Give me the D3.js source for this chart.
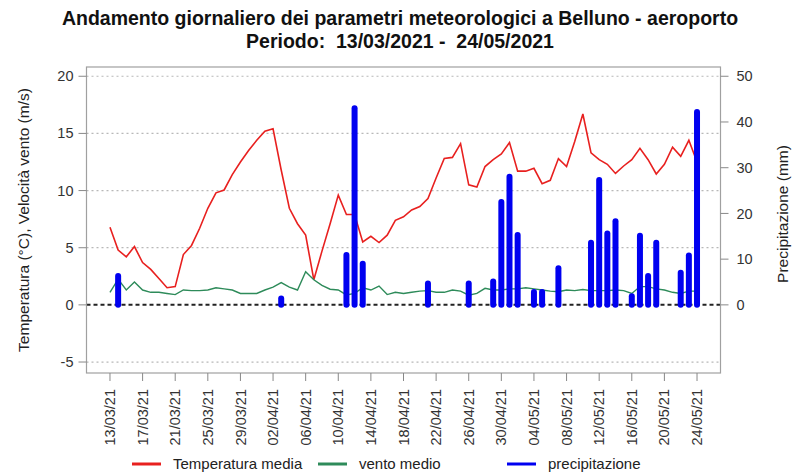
<!DOCTYPE html>
<html><head><meta charset="utf-8">
<script src="https://cdn.jsdelivr.net/npm/d3@7"></script>
<style>body{margin:0;background:#fff;} svg{display:block;font-family:"Liberation Sans",Arial,sans-serif;}</style>
</head><body><div id="chart"></div>
<script>
const titleLines = ["Andamento giornaliero dei parametri meteorologici a Belluno - aeroporto", "Periodo:  13/03/2021 -  24/05/2021"];
const tickLabels = ["13/03/21","17/03/21","21/03/21","25/03/21","29/03/21","02/04/21","06/04/21","10/04/21","14/04/21","18/04/21","22/04/21","26/04/21","30/04/21","04/05/21","08/05/21","12/05/21","16/05/21","20/05/21","24/05/21"];
const tempMedia = [6.8,4.8,4.2,5.1,3.7,3.1,2.3,1.5,1.6,4.4,5.2,6.7,8.45,9.8,10.05,11.4,12.5,13.5,14.4,15.2,15.4,11.8,8.45,7.1,6.1,2.2,4.7,7.1,9.6,7.9,7.9,5.5,6.0,5.45,6.1,7.4,7.7,8.3,8.6,9.3,11.1,12.8,12.9,14.1,10.5,10.3,12.1,12.7,13.2,14.2,11.7,11.7,11.95,10.6,10.9,12.8,12.1,14.3,16.7,13.3,12.7,12.3,11.5,12.15,12.7,13.7,12.7,11.45,12.3,13.8,13.0,14.4,12.5];
const ventoMedio = [1.1,2.25,1.3,2.0,1.3,1.1,1.1,1.0,0.9,1.3,1.25,1.25,1.3,1.5,1.4,1.3,1.0,1.0,1.0,1.3,1.55,1.95,1.55,1.3,2.9,2.2,1.7,1.37,1.3,0.87,1.0,1.5,1.3,1.65,0.9,1.1,1.0,1.1,1.2,1.25,1.1,1.1,1.3,1.2,0.85,1.0,1.45,1.3,1.3,1.4,1.4,1.5,1.4,1.3,1.2,1.15,1.3,1.25,1.35,1.25,1.25,1.25,1.3,1.25,1.0,1.6,1.6,1.4,1.3,1.1,1.0,1.2,1.2];
const precipitazione = [0,6.3,0,0,0,0,0,0,0,0,
 0,0,0,0,0,0,0,0,0,0,
 0,1.4,0,0,0,0,0,0,0,10.9,
 43.0,9.0,0,0,0,0,0,0,0,4.7,
 0,0,0,0,4.7,0,0,5.1,22.5,28.0,
 15.3,0,2.8,2.8,0,8.0,0,0,0,13.6,
 27.3,15.6,18.3,0,1.9,15.1,6.3,13.6,0,0,
 7.0,10.8,42.2];
const leftTicks = [-5,0,5,10,15,20];
const rightTicks = [0,10,20,30,40,50];
const legendItems = [{label:"Temperatura media",color:"#e8201f"},{label:"vento medio",color:"#2e8b5a"},{label:"precipitazione",color:"#0000f0"}];

const W = 796, H = 473;
const box = {l:86.5, r:720.5, t:67, b:373};
const svg = d3.select("#chart").append("svg").attr("width",W).attr("height",H);

const nDays = tempMedia.length;
const x = d3.scaleLinear().domain([-2.88, (nDays-1)+2.88]).range([box.l, box.r]);
const yL = d3.scaleLinear().domain([-5.96, 20.81]).range([box.b, box.t]);
const yR = d3.scaleLinear().domain([-5.96/0.4, 20.81/0.4]).range([box.b, box.t]);

// grid
svg.append("g").selectAll("line").data(leftTicks.filter(d=>d!==0)).join("line")
  .attr("x1",box.l).attr("x2",box.r).attr("y1",d=>yL(d)).attr("y2",d=>yL(d))
  .attr("stroke","#b8b8b8").attr("stroke-width",1.2).attr("stroke-dasharray","2,3");

// zero line
svg.append("line").attr("x1",box.l).attr("x2",box.r).attr("y1",yL(0)).attr("y2",yL(0))
  .attr("stroke","#222").attr("stroke-width",2).attr("stroke-dasharray","4,3");

// lines
const lineT = d3.line().x((d,i)=>x(i)).y(d=>yL(d));
svg.append("path").datum(tempMedia).attr("d",lineT).attr("fill","none").attr("stroke","#e8201f").attr("stroke-width",1.6);
svg.append("path").datum(ventoMedio).attr("d",lineT).attr("fill","none").attr("stroke","#2e8b5a").attr("stroke-width",1.4);

// bars
svg.append("g").selectAll("line").data(precipitazione.map((p,i)=>({p,i})).filter(d=>d.p>0)).join("line")
  .attr("x1",d=>x(d.i)).attr("x2",d=>x(d.i)).attr("y1",yR(0)).attr("y2",d=>yR(d.p))
  .attr("stroke","#0000f0").attr("stroke-width",6).attr("stroke-linecap","round");

// box
svg.append("rect").attr("x",box.l).attr("y",box.t).attr("width",box.r-box.l).attr("height",box.b-box.t)
  .attr("fill","none").attr("stroke","#a0a0a0").attr("stroke-width",1.2);

// left axis
const gL = svg.append("g");
gL.selectAll("line").data(leftTicks).join("line")
  .attr("x1",box.l-8).attr("x2",box.l).attr("y1",d=>yL(d)).attr("y2",d=>yL(d)).attr("stroke","#888");
gL.selectAll("text").data(leftTicks).join("text")
  .attr("x",box.l-13).attr("y",d=>yL(d)).attr("dy","0.35em").attr("text-anchor","end")
  .attr("font-size",14.5).attr("fill","#333").text(d=>d);

// right axis
const gR = svg.append("g");
gR.selectAll("line").data(rightTicks).join("line")
  .attr("x1",box.r).attr("x2",box.r+8).attr("y1",d=>yR(d)).attr("y2",d=>yR(d)).attr("stroke","#888");
gR.selectAll("text").data(rightTicks).join("text")
  .attr("x",box.r+16).attr("y",d=>yR(d)).attr("dy","0.35em").attr("text-anchor","start")
  .attr("font-size",14.5).attr("fill","#333").text(d=>d);

// x axis
const gX = svg.append("g");
gX.selectAll("line").data(tickLabels).join("line")
  .attr("x1",(d,i)=>x(i*4)).attr("x2",(d,i)=>x(i*4)).attr("y1",box.b).attr("y2",box.b+8).attr("stroke","#888");
gX.selectAll("text").data(tickLabels).join("text")
  .attr("transform",(d,i)=>`translate(${x(i*4)},${box.b+16}) rotate(-90)`)
  .attr("dy","0.35em").attr("text-anchor","end").attr("font-size",14.5).attr("fill","#333").text(d=>d);

// axis titles
svg.append("text").attr("transform",`translate(24,${(box.t+box.b)/2}) rotate(-90)`)
  .attr("text-anchor","middle").attr("dy","0.35em").attr("font-size",15.5).attr("fill","#222")
  .text("Temperatura (°C), Velocità vento (m/s)");
svg.append("text").attr("transform",`translate(783,${(box.t+box.b)/2-6}) rotate(-90)`)
  .attr("text-anchor","middle").attr("dy","0.35em").attr("font-size",15.5).attr("fill","#222")
  .text("Precipitazione (mm)");

// title
svg.append("g").selectAll("text").data(titleLines).join("text")
  .attr("x",W/2+2).attr("y",(d,i)=>25+i*23).attr("text-anchor","middle")
  .style("white-space","pre").attr("xml:space","preserve")
  .attr("font-size",19.5).attr("font-weight","bold").attr("fill","#111").text(d=>d);

// legend
const legX = [132, 318, 507];
const gLeg = svg.append("g");
legendItems.forEach((it,i)=>{
  gLeg.append("line").attr("x1",legX[i]).attr("x2",legX[i]+29).attr("y1",464).attr("y2",464)
    .attr("stroke",it.color).attr("stroke-width",3);
  gLeg.append("text").attr("x",legX[i]+41).attr("y",464).attr("dy","0.35em")
    .attr("font-size",15).attr("fill","#222").text(it.label);
});
</script></body></html>
